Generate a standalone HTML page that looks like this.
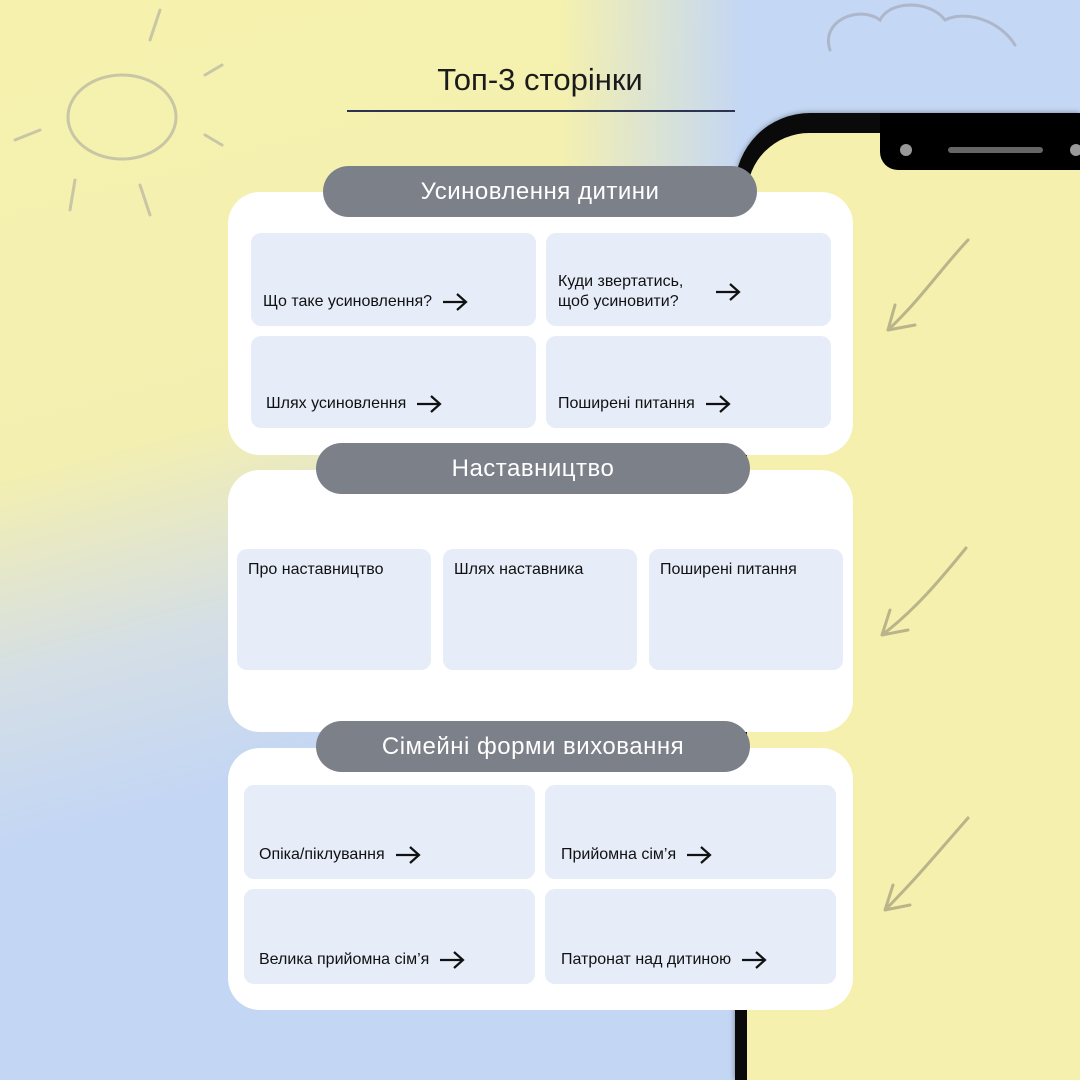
<!DOCTYPE html>
<html><head><meta charset="utf-8"><style>
*{margin:0;padding:0;box-sizing:border-box}
html,body{width:1080px;height:1080px;overflow:hidden}
body{position:relative;font-family:"Liberation Sans",sans-serif;
background:linear-gradient(165deg,#f6f2ad 0%,#f3efb1 35%,#d4dee6 50%,#c3d6f4 62%,#c3d6f4 100%);}
.topright{position:absolute;left:560px;top:0;width:520px;height:320px;background:linear-gradient(90deg,rgba(196,215,244,0),#c4d7f4 35%)}
.phone{position:absolute;left:735px;top:113px;width:345px;height:967px;background:#0a0a0a;border-radius:75px 0 0 0;box-shadow:0 0 6px rgba(0,0,0,.4);overflow:hidden}
.screen{position:absolute;left:12px;top:20px;right:0;bottom:0;background:#f5f0ad;border-radius:62px 0 0 0}
.notch{position:absolute;left:145px;top:0;width:200px;height:57px;background:#000;border-radius:0 0 0 18px}
.dot{position:absolute;width:12px;height:12px;border-radius:50%;background:#999;top:31px}
.spk{position:absolute;left:68px;top:34px;width:95px;height:6px;border-radius:3px;background:#666}
.title{position:absolute;left:0;width:1080px;top:62px;text-align:center;font-size:31px;color:#1b1b1b}
.uline{position:absolute;left:347px;top:110px;width:388px;height:2px;background:#2d3350}
.card{position:absolute;left:228px;width:625px;background:#fff;border-radius:32px}
.pill{position:absolute;height:51px;border-radius:26px;background:#7c8089;color:#fff;font-size:24px;text-align:center;line-height:51px;letter-spacing:.5px}
.tile{position:absolute;background:#e6ecf8;border-radius:10px;font-size:16px;color:#111}
.tile .t{position:absolute;left:12px;bottom:14px;display:flex;align-items:center;gap:10px;line-height:20px}
.tile .tt{position:absolute;left:11px;top:12px}
.doodle{position:absolute;left:0;top:0}
</style></head><body>
<div class="topright"></div>
<svg class="doodle" width="1080" height="1080" fill="none" stroke="#c9c6a6" stroke-width="3" stroke-linecap="round">
<ellipse cx="122" cy="117" rx="54" ry="42"/>
<path d="M150 40L160 10M205 75L222 65M205 135L222 145M140 185L150 215M75 180L70 210M40 130L15 140"/>
<path d="M830 50C820 20 860 5 880 20C890 0 930 0 945 20C965 10 1000 20 1015 45" stroke="#aeb7c9"/>
</svg>
<div class="phone"><div class="screen"></div><div class="notch"><div class="dot" style="left:20px"></div><div class="spk"></div><div class="dot" style="left:190px"></div></div></div>
<svg class="doodle" width="1080" height="1080" fill="none" stroke="#b9b48a" stroke-width="3" stroke-linecap="round">
<path d="M968 240C940 270 920 300 888 330M888 330L915 325M888 330L895 305"/>
<path d="M966 548C940 580 915 610 882 635M882 635L908 630M882 635L890 610"/>
<path d="M968 818C940 850 915 880 885 910M885 910L910 905M885 910L893 885"/>
</svg>
<div class="title">Топ-3 сторінки</div>
<div class="uline"></div>

<svg width="0" height="0" style="position:absolute"><defs><symbol id="a" viewBox="0 0 26 20"><path d="M1 10H24M15 2L24 10L15 18" fill="none" stroke="#111" stroke-width="2.2"/></symbol></defs></svg>

<div class="card" style="top:192px;height:263px"></div>
<div class="pill" style="left:323px;top:166px;width:434px">Усиновлення дитини</div>
<div class="tile" style="left:251px;top:233px;width:285px;height:93px"><div class="t">Що таке усиновлення? <svg width="26" height="20"><use href="#a"/></svg></div></div>
<div class="tile" style="left:546px;top:233px;width:285px;height:93px"><div class="t">Куди звертатись,<br>щоб усиновити? <svg width="26" height="20" style="margin-left:22px"><use href="#a"/></svg></div></div>
<div class="tile" style="left:251px;top:336px;width:285px;height:92px"><div class="t" style="left:15px">Шлях усиновлення <svg width="26" height="20"><use href="#a"/></svg></div></div>
<div class="tile" style="left:546px;top:336px;width:285px;height:92px"><div class="t">Поширені питання <svg width="26" height="20"><use href="#a"/></svg></div></div>

<div class="card" style="top:470px;height:262px"></div>
<div class="pill" style="left:316px;top:443px;width:434px">Наставництво</div>
<div class="tile" style="left:237px;top:549px;width:194px;height:121px"><div class="tt">Про наставництво</div></div>
<div class="tile" style="left:443px;top:549px;width:194px;height:121px"><div class="tt">Шлях наставника</div></div>
<div class="tile" style="left:649px;top:549px;width:194px;height:121px"><div class="tt">Поширені питання</div></div>

<div class="card" style="top:748px;height:262px"></div>
<div class="pill" style="left:316px;top:721px;width:434px">Сімейні форми виховання</div>
<div class="tile" style="left:244px;top:785px;width:291px;height:94px"><div class="t" style="left:15px">Опіка/піклування <svg width="26" height="20"><use href="#a"/></svg></div></div>
<div class="tile" style="left:545px;top:785px;width:291px;height:94px"><div class="t" style="left:16px">Прийомна сім’я <svg width="26" height="20"><use href="#a"/></svg></div></div>
<div class="tile" style="left:244px;top:889px;width:291px;height:95px"><div class="t" style="left:15px">Велика прийомна сім’я <svg width="26" height="20"><use href="#a"/></svg></div></div>
<div class="tile" style="left:545px;top:889px;width:291px;height:95px"><div class="t" style="left:16px">Патронат над дитиною <svg width="26" height="20"><use href="#a"/></svg></div></div>
</body></html>
